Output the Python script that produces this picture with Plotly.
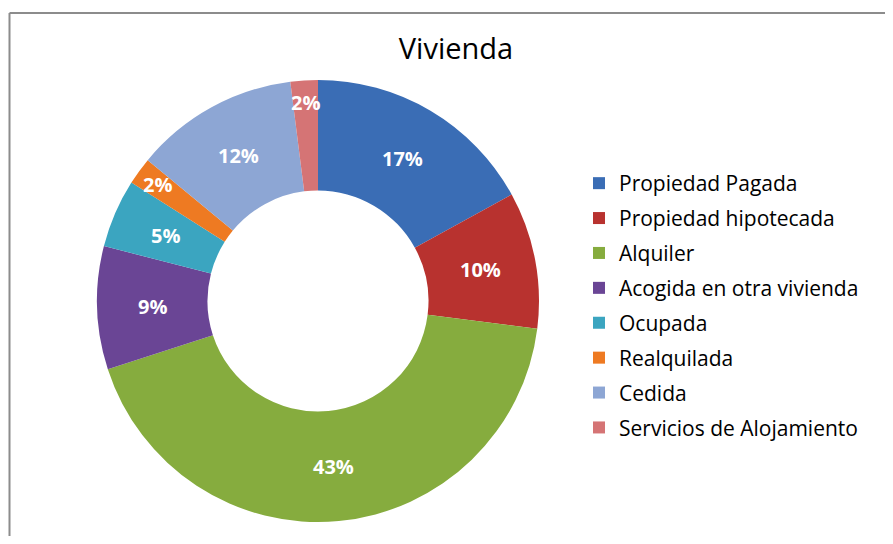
import math
import plotly.graph_objects as go

labels = ["Propiedad Pagada", "Propiedad hipotecada", "Alquiler",
          "Acogida en otra vivienda", "Ocupada", "Realquilada",
          "Cedida", "Servicios de Alojamiento"]
values = [17, 10, 43, 9, 5, 2, 12, 2]
colors = ["#3A6DB5", "#B8322F", "#86AC3E", "#6A4595",
          "#3BA5C0", "#EE7A22", "#8DA6D4", "#D57475"]
title_text = "Vivienda"

# page body has an 8px margin; the figure is sized to the visible window
OFF = 8
W, H = 893 - OFF, 544 - 2 * OFF
FONT = "Open Sans"


def px_x(x):
    return (x - OFF) / W


def px_y(y):
    return (H - (y - OFF)) / H


# pie geometry in window pixels
cx, cy, R = 318, 301, 221
hole = 0.5
dom_x = [px_x(cx - R), px_x(cx + R)]
dom_y = [px_y(cy + R), px_y(cy - R)]

fig = go.Figure()
fig.add_trace(go.Pie(
    labels=labels, values=values, sort=False, direction="clockwise",
    rotation=0, hole=hole, textinfo="none", showlegend=False,
    marker=dict(colors=colors, line=dict(width=0)),
    domain=dict(x=dom_x, y=dom_y), hoverinfo="label+percent",
))

# data labels at mid-angle, mid-radius (small slices pushed outward)
total = sum(values)
cum = 0
for lab, v in zip(labels, values):
    mid = (cum + v / 2) / total * 2 * math.pi
    cum += v
    r = R * (1 + hole) / 2 if v / total >= 0.03 else R * 0.9
    lx = cx + r * math.sin(mid)
    ly = cy - r * math.cos(mid)
    fig.add_annotation(
        x=px_x(lx), y=px_y(ly), xref="paper", yref="paper",
        text=f"<b>{round(100 * v / total)}%</b>", showarrow=False,
        font=dict(family=FONT, size=20, color="white"),
        xanchor="center", yanchor="middle",
    )

# legend entries (one group per category for spacing)
for i, (lab, col) in enumerate(zip(labels, colors)):
    fig.add_trace(go.Scatter(
        x=[None], y=[None], mode="markers", name=lab,
        legendgroup=f"g{i}",
        marker=dict(symbol="square", size=12, color=col),
        hoverinfo="skip",
    ))

frame = dict(color="#8C8C8C", width=2)
fig.update_layout(
    width=W, height=H,
    margin=dict(l=0, r=0, t=0, b=0),
    paper_bgcolor="white", plot_bgcolor="white",
    title=dict(text=title_text, x=px_x(456), y=px_y(49),
               xanchor="center", yanchor="middle",
               font=dict(family=FONT, size=29, color="black")),
    xaxis=dict(visible=False), yaxis=dict(visible=False),
    legend=dict(
        x=px_x(619 - 40), y=px_y(163), xanchor="left", yanchor="top",
        font=dict(family=FONT, size=21, color="black"),
        tracegroupgap=4.6, bgcolor="rgba(0,0,0,0)",
    ),
    shapes=[
        dict(type="line", xref="paper", yref="paper",
             x0=px_x(9.5), x1=1.0, y0=px_y(13), y1=px_y(13), line=frame),
        dict(type="line", xref="paper", yref="paper",
             x0=px_x(9.5), x1=px_x(9.5), y0=0.0, y1=px_y(13), line=frame),
    ],
)

fig.write_html("out.html")
